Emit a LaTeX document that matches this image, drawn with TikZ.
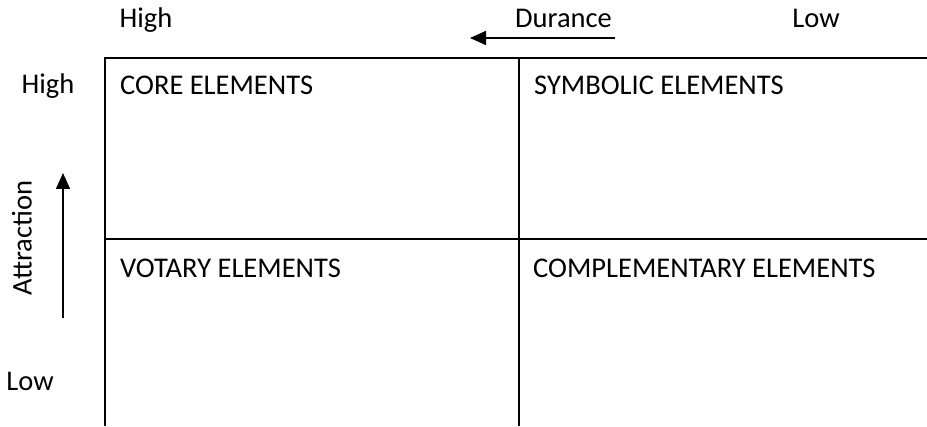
\documentclass[tikz,border=0pt]{standalone}
\usepackage{fontspec}
\setmainfont{Carlito}
\usetikzlibrary{arrows.meta}
\begin{document}
\begin{tikzpicture}[x=1pt,y=1pt,
  grid/.style={line width=2pt},
  lbl/.style={font=\fontsize{28.5}{32}\selectfont, inner sep=0pt, anchor=base},
  quad/.style={lbl, anchor=base west},
  axarrow/.style={line width=1.5pt, -{Triangle[length=16pt,width=14pt]}}]
\useasboundingbox (0,0) rectangle (927,426);
% grid
\coordinate (tl) at (105,368);
\coordinate (tr) at (927,368);
\coordinate (bl) at (105,0);
\coordinate (mt) at (518.5,368);
\coordinate (mb) at (518.5,0);
\coordinate (ml) at (105,187);
\coordinate (mr) at (927,187);
\draw[grid] (bl) -- (tl) -- (tr);
\draw[grid] (mt) -- (mb);
\draw[grid] (ml) -- (mr);
% top labels
\node[lbl] (hightop) at (146,398) {High};
\node[lbl] (durance) at (563.5,398) {Durance};
\node[lbl] (lowtop) at (816,398) {Low};
\coordinate (da) at (615,388);
\coordinate (db) at (470,388);
\draw[axarrow] (da) -- (db);
% left labels
\node[lbl] (highleft) at (48,332) {High};
\node[lbl] (lowleft) at (30,35) {Low};
\node[lbl, anchor=center, rotate=90] (attr) at (22,188) {Attraction};
\coordinate (aa) at (63,108);
\coordinate (ab) at (63,253);
\draw[axarrow] (aa) -- (ab);
% quadrants
\node[quad] (core) at (120,331) {CORE ELEMENTS};
\node[quad] (sym) at (534,331) {SYMBOLIC ELEMENTS};
\node[quad] (vot) at (120,148) {VOTARY ELEMENTS};
\node[quad] (comp) at (533,148) {COMPLEMENTARY ELEMENTS};
\end{tikzpicture}
\end{document}
